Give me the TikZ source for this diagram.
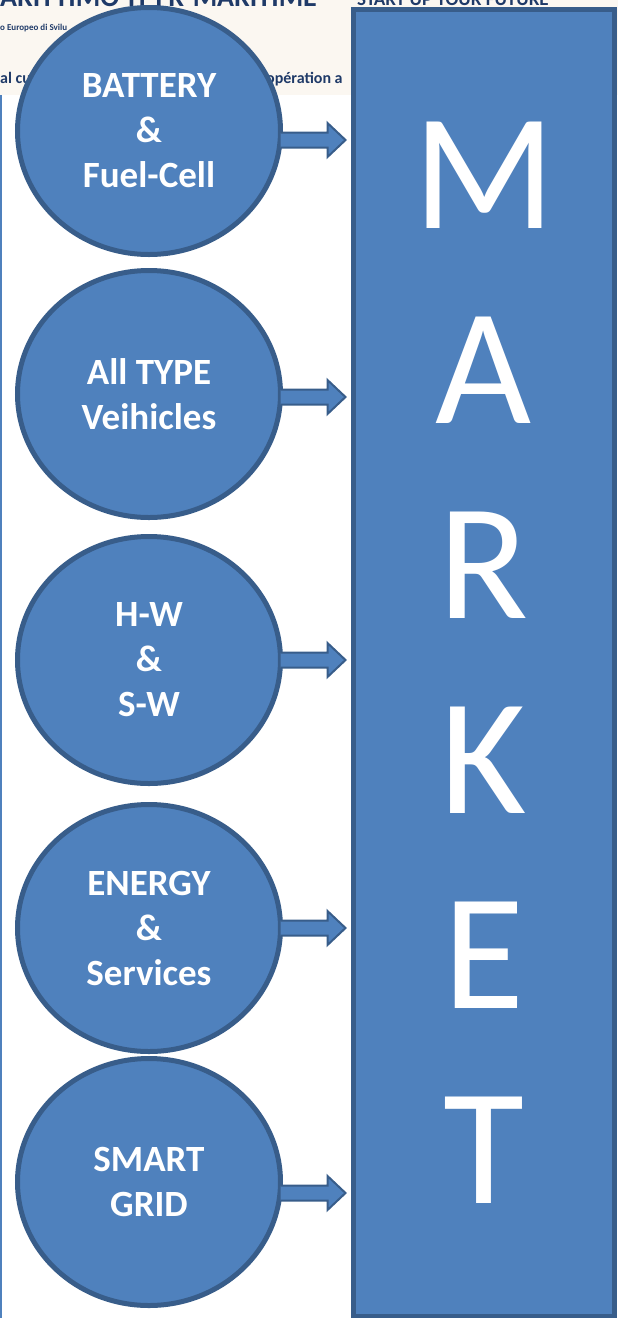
\documentclass[tikz,border=0pt]{standalone}
\usepackage{fontspec}
\setmainfont{Carlito}
\usetikzlibrary{shapes.geometric, positioning, calc}
\definecolor{mktblue}{HTML}{4F81BD}
\definecolor{mktline}{HTML}{385D8A}
\definecolor{headbg}{HTML}{FBF7F1}
\definecolor{headtxt}{HTML}{1F3A68}
\tikzstyle{bubble} = [ellipse, draw=mktline, fill=mktblue, line width=5pt, minimum width=263pt, minimum height=247pt, inner sep=0pt, outer sep=0pt, text=white, align=center, font=\bfseries\fontsize{37}{45}\selectfont]
\tikzstyle{blockarrow} = [draw=mktline, fill=mktblue, line width=2pt, line join=miter,
  to path={let \p1=(\tikztostart), \p2=(\tikztotarget) in
    (\x1,\y1+7.5pt) -- (\x2-26pt,\y1+7.5pt) -- (\x2-26pt,\y1+17pt) -- (\x2-8pt,\y1)
    -- (\x2-26pt,\y1-17pt) -- (\x2-26pt,\y1-7.5pt) -- (\x1,\y1-7.5pt)}]

\begin{document}
\begin{tikzpicture}[x=1pt, y=-1pt,
    header/.style={anchor=base west, inner sep=0pt, text=headtxt, font=\bfseries\fontsize{#1}{#1}\selectfont},
    marketbox/.style={rectangle, draw=mktline, fill=mktblue, line width=5pt, minimum width=261pt, minimum height=1307pt, inner sep=0pt, outer sep=0pt, text=white, align=center, font=\fontsize{166}{195}\selectfont}
  ]
    \clip (0,0) rectangle (618,1318);

    % page header left behind the chart
    \fill[headbg] (0,0) rectangle (618,95);
    \fill[mktblue] (0,95) rectangle (2,1318);
    \node[header=28] (hdA) at (0,6) {ARITTIMO-IT FR-MARITIME};
    \node[header=19] (hdB) at (357,5) {START UP YOUR FUTURE};
    \node[header=9]  (hdC) at (0,30) {o Europeo di Svilu};
    \node[header=16] (hdD) at (0,83) {al cu};
    \node[header=16] (hdE) at (266,83) {opération a};

    % market column
    \node[marketbox] (market) at (484,663) {M\\A\\R\\K\\E\\T};

    % sectors
    \node[bubble] (c1) at (149,131) {BATTERY\\\&\\Fuel-Cell};
    \node[bubble, below=16pt of c1] (c2) {All TYPE\\Veihicles};
    \node[bubble, below=19pt of c2] (c3) {H-W\\\&\\S-W};
    \node[bubble, below=21pt of c3] (c4) {ENERGY\\\&\\Services};
    \node[bubble, below=7pt of c4]  (c5) {SMART\\GRID};

    % arrows into the market
    \draw[blockarrow] ([yshift=-9pt]c1.east) to (market.west);
    \draw[blockarrow] ([yshift=-3pt]c2.east) to (market.west);
    \draw[blockarrow] (c3.east) to (market.west);
    \draw[blockarrow] (c4.east) to (market.west);
    \draw[blockarrow] ([yshift=-11pt]c5.east) to (market.west);
\end{tikzpicture}
\end{document}
